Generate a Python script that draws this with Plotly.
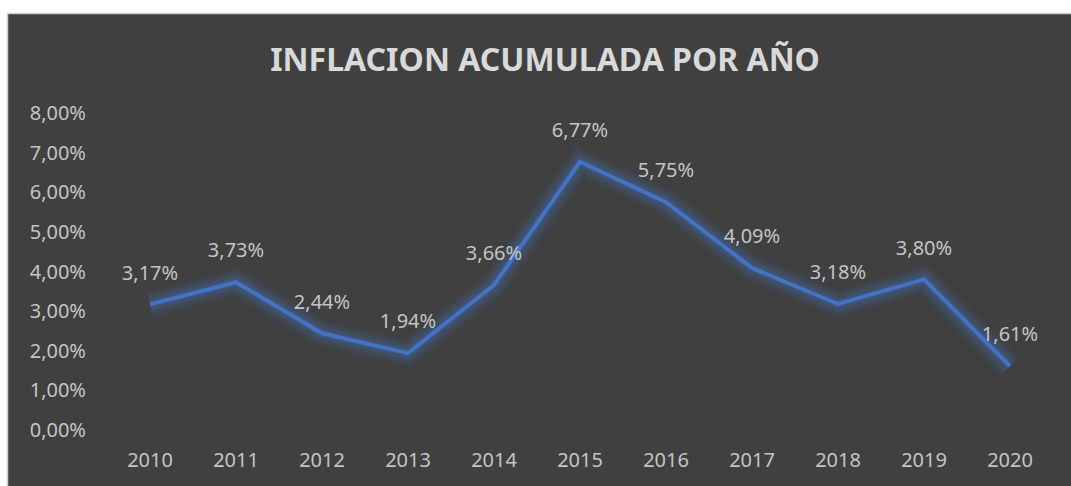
import plotly.graph_objects as go

years = ["2010", "2011", "2012", "2013", "2014", "2015", "2016", "2017", "2018", "2019", "2020"]
inflation = [0.0317, 0.0373, 0.0244, 0.0194, 0.0366, 0.0677, 0.0575, 0.0409, 0.0318, 0.0380, 0.0161]
title_text = "INFLACION ACUMULADA POR AÑO"

W, H = 1071, 486
L, R, T, B = 107, 18, 113, 56
pw, ph = W - L - R, H - T - B

def px_x(p):
    return (p - L) / pw

def px_y(p):
    return (H - B - p) / ph

FONT = "Noto Sans"
TXT = "#c4c4c4"

fig = go.Figure()
# glow layers
for w, a in [(26, 0.08), (20, 0.10), (14, 0.13), (9, 0.16)]:
    fig.add_trace(go.Scatter(x=years, y=inflation, mode="lines",
                             line=dict(color=f"rgba(68,114,196,{a})", width=w),
                             hoverinfo="skip", showlegend=False))
fig.add_trace(go.Scatter(x=years, y=inflation, mode="lines+text+markers",
                         line=dict(color="#4472C4", width=4),
                         marker=dict(size=30, color="rgba(0,0,0,0)"),
                         text=inflation, texttemplate="%{y:.2%}",
                         textposition="top center",
                         textfont=dict(family=FONT, size=20, color=TXT),
                         showlegend=False))

fig.add_shape(type="rect", xref="paper", yref="paper", layer="below",
              x0=px_x(7.5), x1=px_x(1080), y0=px_y(13.5), y1=px_y(500),
              fillcolor="#404040", line=dict(color="#d0d0d0", width=1.5))

fig.update_layout(
    width=W, height=H,
    margin=dict(l=L, r=R, t=T, b=B),
    paper_bgcolor="white", plot_bgcolor="rgba(0,0,0,0)",
    separators=",.",
    title=dict(text="<b>" + title_text + "</b>", x=545 / W, xanchor="center",
               y=1 - 60 / H, yanchor="middle", yref="container",
               font=dict(family=FONT, size=32, color="#d9d9d9")),
    xaxis=dict(range=[-0.5, len(years) - 0.5], showgrid=False, zeroline=False, showline=False,
               tickfont=dict(family=FONT, size=20, color=TXT),
               ticklabelstandoff=16),
    yaxis=dict(range=[0, 0.08], dtick=0.01, tickformat=".2%",
               showgrid=False, zeroline=False, showline=False,
               tickfont=dict(family=FONT, size=20, color=TXT),
               ticklabelstandoff=20),
)

fig.write_html("out.html", config={"displayModeBar": False},
               post_script="document.body.style.margin='0';")
